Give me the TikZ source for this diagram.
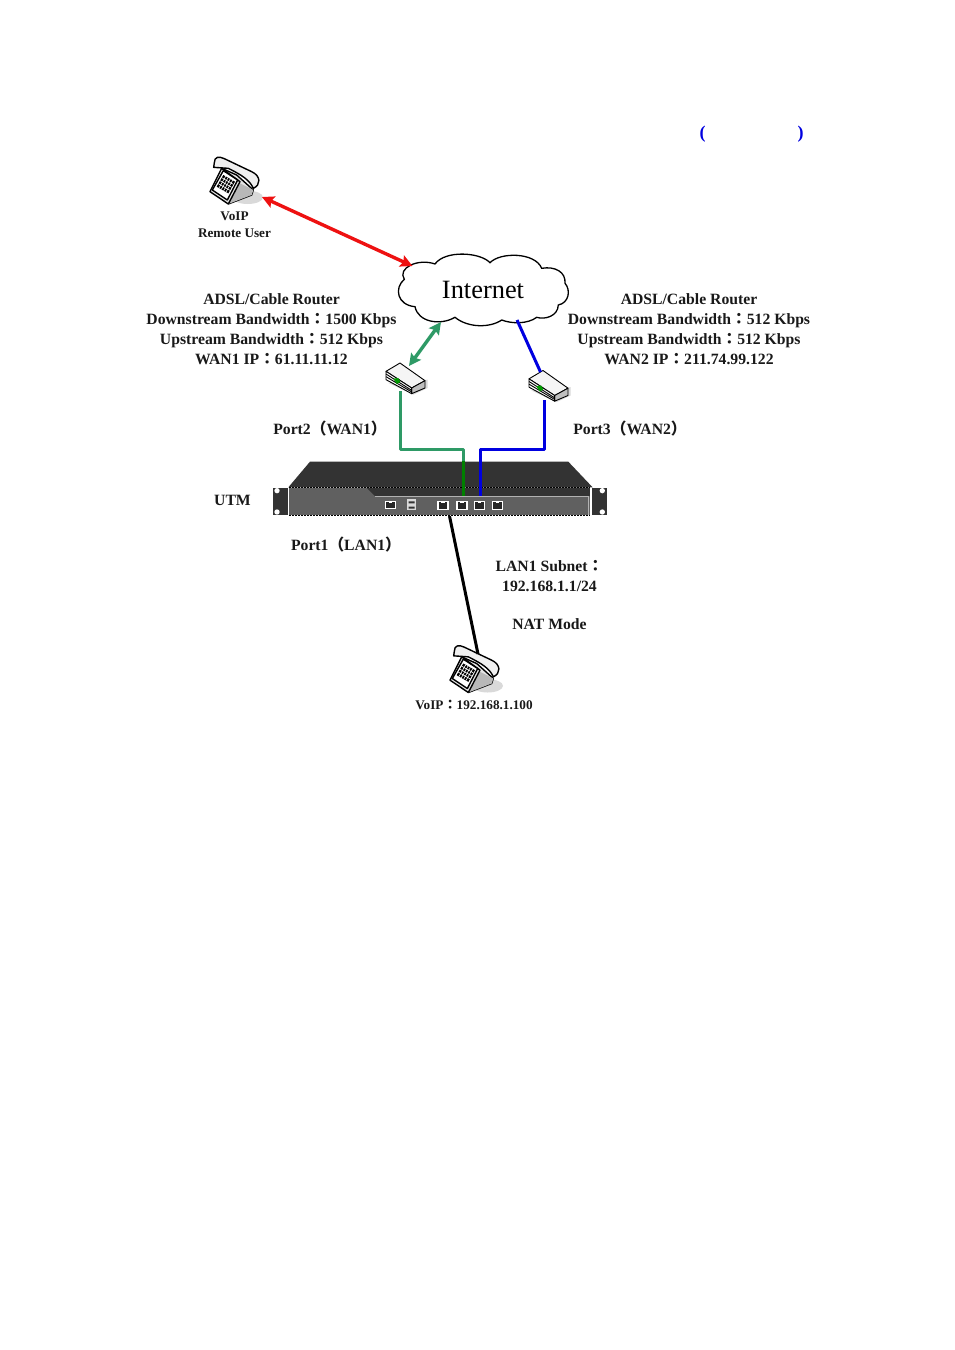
\documentclass[tikz,border=0pt]{standalone}
\usepackage{fontspec}
\setmainfont{Liberation Serif}
\newfontfamily\cjk{Noto Sans CJK TC}
\usetikzlibrary{arrows.meta}
\newcommand{\fw}[1]{{\cjk\bfseries #1}}
\definecolor{wangreen}{HTML}{2E9A66}
\definecolor{portgreen}{HTML}{008000}
\definecolor{wanblue}{HTML}{0000E0}
\definecolor{arrowred}{HTML}{EE1111}
\definecolor{chassis}{HTML}{333333}
\definecolor{panel}{HTML}{606060}
\tikzset{
  lbl/.style={font=\bfseries\fontsize{15.7}{20}\selectfont, align=center, inner sep=0pt, text=black!90},
  smalllbl/.style={font=\bfseries\fontsize{13.2}{16.5}\selectfont, align=center, inner sep=0pt, text=black!90},
  bracket/.style={inner sep=0pt, text=wanblue, font=\bfseries\fontsize{18}{18}\selectfont},
  link/.style={line width=3pt, line cap=butt, line join=miter},
  biarrow/.style={line width=3.4pt, {Stealth[length=12pt,width=12pt,inset=2pt]}-{Stealth[length=12pt,width=12pt,inset=2pt]}},
  phone/.pic={
    \begin{scope}[scale=0.3333, line width=1.4pt, line join=round]
      \fill[black!15] (38,52) ellipse (46 and 20);
      \draw[fill=black!6] (-62,-52) .. controls (-62,-70) and (-48,-72) .. (-32,-64)
         -- (50,-25) .. controls (78,-12) and (78,15) .. (55,25)
         .. controls (44,0) and (20,-15) .. (-20,-35) -- (-64,-38) -- cycle;
      \draw[fill=black!10] (-75,35) -- (-40,-35) -- (5,-15) -- (55,30) -- (50,45) -- (-20,72) -- cycle;
      \fill[black!28] (-20,72) -- (15,10) -- (55,30) -- (50,45) -- cycle;
      \draw (-20,72) -- (15,5) -- (-40,-35);
      \draw[fill=white] (-68,30) -- (-35,-28) -- (8,0) -- (-23,60) -- cycle;
      \fill[black] (-55,20) -- (-35,-15) -- (0,5) -- (-20,40) -- cycle;
      \draw[white, line width=0.6pt] (-48,24) -- (-28,-11) (-41,28) -- (-21,-7) (-34,32) -- (-14,-3) (-27,36) -- (-7,1)
        (-50,11) -- (-15,31) (-45,2) -- (-10,22) (-40,-7) -- (-5,13);
    \end{scope}
  },
  router/.pic={
    \begin{scope}[scale=0.3333, line width=0.9pt, line join=round]
      \fill[black!15] (-50,15) -- (25,50) -- (68,30) -- (68,5) -- cycle;
      \draw[fill=black!4] (-57,-20) -- (-15,-45) -- (60,8) -- (20,30) -- cycle;
      \draw[fill=black!25] (20,30) -- (60,8) -- (60,30) -- (20,47) -- cycle;
      \draw[fill=white] (-57,-20) -- (20,30) -- (20,47) -- (-57,5) -- cycle;
      \draw (-57,-12) -- (20,37) (-57,-4) -- (20,42);
      \fill[green!60!black] (-35,2) -- (-20,0) -- (-14,12) -- (-25,18) -- cycle;
    \end{scope}
  }
}
\newcommand{\rjport}[2]{%
  \fill[white] (#1-17,#2-13) rectangle (#1+17,#2+13);
  \fill[black!85] (#1-13,#2-10) rectangle (#1+13,#2+9);
  \fill[white] (#1-5,#2-10) rectangle (#1+5,#2-7);
}
\begin{document}
\begin{tikzpicture}[x=1pt,y=-1pt]
\useasboundingbox (0,0) rectangle (954,1350);
\fill[white] (0,0) rectangle (954,1350);

% blue brackets
\node[bracket] (openb) at (702.5,134) {(};
\node[bracket] (closeb) at (800.5,134) {)};

% cloud
\draw[line width=1.3pt, fill=white]
  (404.3,279.3) .. controls (397,268) and (418,258) .. (435,264)
  .. controls (445,250) and (480,252) .. (490,262.7)
  .. controls (500,252) and (535,252) .. (541.7,268.3)
  .. controls (555,266) and (566,272) .. (565,283.3)
  .. controls (571,290) and (569,303) .. (558.3,305)
  .. controls (558,316) and (545,320) .. (536.7,317.3)
  .. controls (528,324) and (512,324) .. (501.7,320)
  .. controls (490,328) and (468,328) .. (455,317.3)
  .. controls (440,326) and (418,322) .. (415,306.7)
  .. controls (397,305) and (394,288) .. (404.3,279.3) -- cycle;
\node[inner sep=0pt, font=\fontsize{26.4}{30}\selectfont] (cloud) at (483,289.5) {Internet};
\coordinate (cloudNW) at (412.5,266);
\coordinate (cloudSW) at (441,322);
\coordinate (cloudSE) at (517,320);

% UTM
\begin{scope}[shift={(260,440)},scale=0.3333]
  \fill[chassis] (150,65) -- (925,65) -- (998,142) -- (85,142) -- cycle;
  \fill[chassis] (38,143) rectangle (85,226);
  \fill[chassis] (995,143) rectangle (1040,226);
  \fill[white] (51,152) circle (8) (51,216) circle (8) (1027,152) circle (8) (1027,216) circle (8);
  \fill[panel] (88,143) rectangle (990,226);
  \fill[chassis] (320,143) -- (990,143) -- (990,168) -- (345,168) -- cycle;
  \draw[black, line width=0.6pt, dash pattern=on 2pt off 1pt] (88,142) -- (990,142) (88,226) -- (990,226);
  \draw[black!30, line width=0.5pt] (345,170) -- (985,170) -- (985,224);
  \rjport{391}{195}
  \rjport{549}{197}
  \rjport{606}{197}
  \rjport{659}{197}
  \rjport{712}{197}
  \fill[white!85!black] (442,178) rectangle (468,194);
  \fill[white!85!black] (442,196) rectangle (468,210);
  \fill[chassis] (446,184) rectangle (464,190) (446,200) rectangle (464,206);
\end{scope}
\node[inner sep=0pt, minimum width=320pt, minimum height=55pt] (utm) at (440,488) {};
\coordinate (utmA) at (463.3,495.5);
\coordinate (utmB) at (480,495.5);
\coordinate (utmC) at (449.5,516);

% routers
\pic at (405,378) {router};
\pic at (548,385.5) {router};
\coordinate (routerAtop) at (409,366);
\coordinate (routerAbot) at (400,391);
\coordinate (routerBtop) at (540.5,372);
\coordinate (routerBbot) at (544,400);

% phones
\pic at (235,180) {phone};
\pic at (475,668.5) {phone};
\coordinate (phoneA) at (262,197);
\coordinate (phoneB) at (478,654);

% connectors
\draw[biarrow, arrowred] (phoneA) -- (cloudNW);
\draw[biarrow, wangreen] (cloudSW) -- (routerAtop);
\draw[link, wanblue] (cloudSE) -- (routerBtop);
\draw[link, wangreen, line join=round] (routerAbot) |- (463.3,449.5) -- (463.3,462);
\draw[link, portgreen] (463.3,461) -- (utmA);
\draw[link, wanblue, line join=round] (routerBbot) |- (480,449.5) -- (utmB);
\draw[link, black] (utmC) -- (phoneB);

% labels
\node[lbl] (wan1info) at (271.5,329.5) {ADSL/Cable Router\\Downstream Bandwidth\fw{：}1500 Kbps\\Upstream Bandwidth\fw{：}512 Kbps\\WAN1 IP\fw{：}61.11.11.12};
\node[lbl] (wan2info) at (689,329.5) {ADSL/Cable Router\\Downstream Bandwidth\fw{：}512 Kbps\\Upstream Bandwidth\fw{：}512 Kbps\\WAN2 IP\fw{：}211.74.99.122};
\node[lbl] (port2) at (330,428.5) {Port2\fw{（}WAN1\fw{）}};
\node[lbl] (port3) at (630,428.5) {Port3\fw{（}WAN2\fw{）}};
\node[lbl] (utmlbl) at (232.5,500.5) {UTM};
\node[lbl] (port1) at (346,544.5) {Port1\fw{（}LAN1\fw{）}};
\node[lbl] (lansub) at (549.5,576.5) {LAN1 Subnet\fw{：}\\192.168.1.1/24};
\node[lbl] (nat) at (549.5,624.5) {NAT Mode};
\node[smalllbl] (voipr) at (234.5,224.5) {VoIP\\Remote User};
\node[smalllbl] (voipl) at (474,704.5) {VoIP\fw{：}192.168.1.100};
\end{tikzpicture}
\end{document}
